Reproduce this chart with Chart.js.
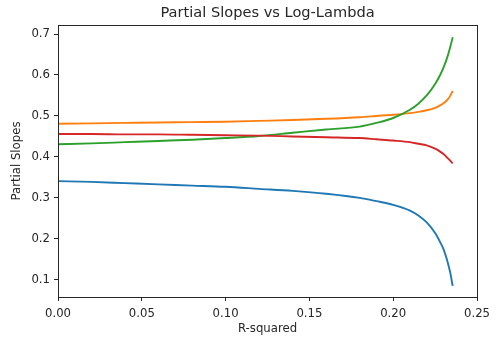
<!DOCTYPE html>
<html>
<head>
<meta charset="utf-8">
<script src="https://cdn.jsdelivr.net/npm/chart.js@4/dist/chart.umd.min.js"></script>
<style>
  body { margin: 0; background: #fff; }
  canvas { display: block; }
</style>
</head>
<body>
<canvas id="graph" width="497" height="340"></canvas>
<script>
// R-squared along the regularisation path
var rSquared = [0, 0.02, 0.04, 0.06, 0.08, 0.10, 0.12, 0.14, 0.16, 0.18, 0.19, 0.20, 0.21, 0.215, 0.22, 0.225, 0.228, 0.23, 0.232, 0.234, 0.2355]
var slopeBlue   = [0.341, 0.339, 0.336, 0.333, 0.330, 0.327, 0.322, 0.317, 0.310, 0.300, 0.292, 0.283, 0.269, 0.257, 0.240, 0.214, 0.192, 0.175, 0.150, 0.118, 0.085]
var slopeOrange = [0.481, 0.482, 0.483, 0.484, 0.485, 0.486, 0.488, 0.490, 0.493, 0.497, 0.500, 0.503, 0.507, 0.510, 0.514, 0.520, 0.526, 0.531, 0.538, 0.549, 0.561]
var slopeGreen  = [0.431, 0.433, 0.436, 0.439, 0.442, 0.446, 0.451, 0.459, 0.467, 0.474, 0.483, 0.495, 0.515, 0.530, 0.550, 0.578, 0.600, 0.618, 0.640, 0.668, 0.692]
var slopeRed    = [0.456, 0.456, 0.455, 0.455, 0.454, 0.453, 0.452, 0.450, 0.448, 0.446, 0.443, 0.440, 0.436, 0.432, 0.428, 0.420, 0.413, 0.407, 0.399, 0.391, 0.384]
var yTicks = [0.1, 0.2, 0.3, 0.4, 0.5, 0.6, 0.7]

function pairs(ys) {
    return ys.map(function (y, i) { return { x: rSquared[i], y: y } })
}

function line(ys, color, order) {
    return {
        data: pairs(ys),
        borderColor: color,
        borderWidth: 1.9,
        pointRadius: 0,
        fill: false,
        cubicInterpolationMode: 'monotone',
        order: order
    }
}

var axisFont = { family: 'DejaVu Sans', size: 11.7 }
var textColor = '#262626'

// matplotlib-style box around the plot area
var frame = {
    id: 'frame',
    afterDraw: function (chart) {
        var a = chart.chartArea, c = chart.ctx
        c.save()
        c.strokeStyle = '#262626'
        c.lineWidth = 1
        c.strokeRect(Math.round(a.left) + 0.5, Math.round(a.top) + 0.5, Math.round(a.right - a.left), Math.round(a.bottom - a.top))
        c.restore()
    }
}

var ctx = document.getElementById("graph").getContext("2d");
var graph = new Chart(ctx, {
    type: 'line',
    data: {
        datasets: [
            line(slopeBlue, '#1f77b4', 4),
            line(slopeOrange, '#ff7f0e', 3),
            line(slopeGreen, '#2ca02c', 2),
            line(slopeRed, '#d62728', 1)
        ]
    },
    options: {
        responsive: false,
        animation: false,
        layout: { padding: { left: 0, right: 20, top: 0, bottom: 0 } },
        plugins: {
            legend: { display: false },
            tooltip: { enabled: false },
            title: {
                display: true,
                text: 'Partial Slopes vs Log-Lambda',
                fullSize: false,
                color: textColor,
                font: { family: 'DejaVu Sans', size: 14.6, weight: 'normal' },
                padding: { top: 4, bottom: 3.5 }
            }
        },
        scales: {
            x: {
                type: 'linear',
                min: 0,
                max: 0.25,
                afterFit: function (s) { s.height = 43 },
                border: { display: false },
                grid: { drawOnChartArea: false, drawTicks: true, tickLength: 4, color: '#262626' },
                ticks: {
                    stepSize: 0.05,
                    color: textColor,
                    font: axisFont,
                    padding: 6,
                    maxRotation: 0,
                    callback: function (v) { return v.toFixed(2) }
                },
                title: { display: true, text: 'R-squared', color: textColor, font: axisFont, padding: { top: 2, bottom: 4 } }
            },
            y: {
                type: 'linear',
                min: 0.058,
                max: 0.722,
                afterFit: function (s) { s.width = 58 },
                afterBuildTicks: function (s) { s.ticks = yTicks.map(function (v) { return { value: v } }) },
                border: { display: false },
                grid: { drawOnChartArea: false, drawTicks: true, tickLength: 4, color: '#262626' },
                ticks: {
                    color: textColor,
                    font: axisFont,
                    padding: 4,
                    callback: function (v) { return v.toFixed(1) }
                },
                title: { display: true, text: 'Partial Slopes', color: textColor, font: axisFont, padding: { top: 10, bottom: 0 } }
            }
        }
    },
    plugins: [frame]
});
</script>
</body>
</html>
